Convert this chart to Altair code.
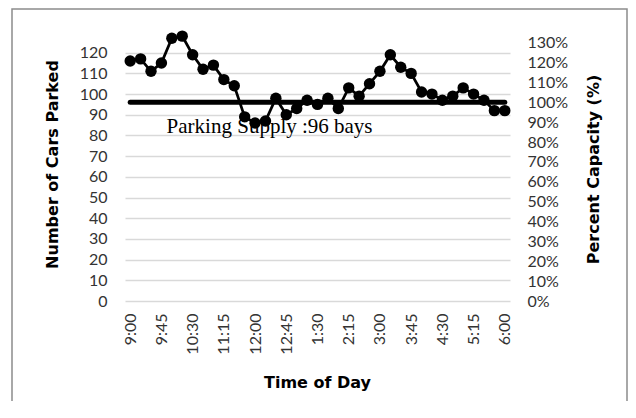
import altair as alt
import pandas as pd

# ---- data ----
times = ["9:00", "9:15", "9:30", "9:45", "10:00", "10:15", "10:30", "10:45",
         "11:00", "11:15", "11:30", "11:45", "12:00", "12:15", "12:30", "12:45",
         "1:00", "1:15", "1:30", "1:45", "2:00", "2:15", "2:30", "2:45",
         "3:00", "3:15", "3:30", "3:45", "4:00", "4:15", "4:30", "4:45",
         "5:00", "5:15", "5:30", "5:45", "6:00"]
cars = [116, 117, 111, 115, 127, 128, 119, 112, 114, 107, 104, 89, 86, 87, 98,
        90, 93, 97, 95, 98, 93, 103, 99, 105, 111, 119, 113, 110, 101, 100, 97,
        99, 103, 100, 97, 92, 92]
supply = 96
left_ticks = list(range(0, 130, 10))
pct_ticks = list(range(0, 140, 10))          # percent labels 0%..130%
annotation = "Parking Supply :96 bays"
annot_idx = 3.5      # category position of annotation start
annot_val = 81       # value (cars) of annotation baseline
y_max = 130

df = pd.DataFrame({"idx": list(range(len(times))), "time": times, "cars": cars})
one = pd.DataFrame({"label": [annotation]})

label_expr = "[" + ",".join("'" + t + "'" for t in times) + "][datum.value]"

x_scale = alt.Scale(domain=[-0.5, len(times) - 0.5], nice=False, zero=False)
x_axis = alt.Axis(values=list(range(0, len(times), 3)), labelExpr=label_expr,
                  labelAngle=270, title="Time of Day", grid=False, domain=False,
                  ticks=False, labelPadding=12, titleX=192, titleY=81,
                  titleBaseline="middle", labelOverlap=False, labelFlush=False)
y_scale = alt.Scale(domain=[0, y_max], nice=False)
y_axis = alt.Axis(values=left_ticks, title="Number of Cars Parked", grid=True,
                  domain=False, ticks=False, labelPadding=18, titleAngle=270,
                  titleX=-73, titleY=132, titleBaseline="middle",
                  labelOverlap=False, labelFlush=False)

x_enc = alt.X("idx:Q", scale=x_scale, axis=x_axis)
y_left = alt.Y("cars:Q", scale=y_scale, axis=y_axis)

base = alt.Chart(df)
single = alt.Chart(one)

frame = single.mark_rect(filled=False, stroke="#8c8c8c", strokeWidth=1.5).encode(
    x=alt.value(-113), x2=alt.value(502), y=alt.value(-23), y2=alt.value(420)
)

text = single.mark_text(font="Liberation Serif", fontSize=21, align="left",
                        baseline="alphabetic", color="black").encode(
    x=alt.XDatum(annot_idx, type="quantitative", scale=x_scale, axis=x_axis),
    y=alt.YDatum(annot_val, type="quantitative", scale=y_scale, axis=y_axis),
    text="label:N",
)

supply_line = base.mark_line(color="black", strokeWidth=5, strokeCap="round").encode(
    x=x_enc, y=alt.YDatum(supply, type="quantitative", scale=y_scale, axis=y_axis)
)

data_line = base.mark_line(color="black", strokeWidth=2.75).encode(x=x_enc, y=y_left)
points = base.mark_circle(size=130, color="black", opacity=1).encode(x=x_enc, y=y_left)

left = alt.layer(frame, text, supply_line, data_line, points)

pct_positions = [supply * k / 100 for k in pct_ticks]
right = base.mark_line(opacity=0).encode(
    x=x_enc,
    y=alt.Y("cars:Q", scale=alt.Scale(domain=[0, y_max], nice=False),
            axis=alt.Axis(orient="right", values=pct_positions,
                          labelExpr="format(datum.value/96,'.0%')",
                          title="Percent Capacity (%)", grid=False, domain=False,
                          ticks=False, labelPadding=17, titleAngle=270,
                          titleX=83, titleY=137, titleBaseline="middle",
                          labelOverlap=False, labelFlush=False)),
)

chart = (
    alt.layer(left, right)
    .resolve_scale(y="independent")
    .properties(width=385, height=269,
                padding={"left": 117, "top": 24, "right": 118, "bottom": 100},
                autosize=alt.AutoSizeParams(type="none"))
    .configure_view(stroke="transparent")
    .configure_axis(labelFont="Lato", labelFontSize=16, labelColor="#333333",
                    titleFont="DejaVu Sans", titleFontSize=16, titleFontWeight="bold",
                    titleColor="black", gridColor="#d9d9d9", gridWidth=1.5)
)

chart.save("out.html", embed_options={"renderer": "svg", "actions": False})
